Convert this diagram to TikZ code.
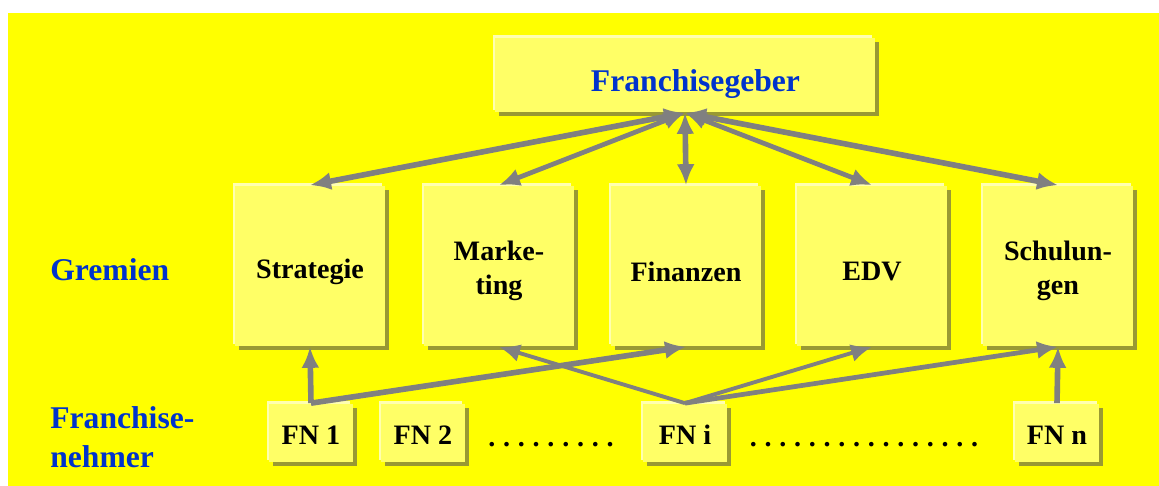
\documentclass[tikz,border=0pt]{standalone}
\usepackage{fontspec}
\setmainfont{Liberation Serif}
\usetikzlibrary{arrows.meta,shadows}
\definecolor{bgyellow}{HTML}{FFFF00}
\definecolor{boxfill}{HTML}{FFFF66}
\definecolor{boxedge}{HTML}{FFFFB0}
\definecolor{boxshade}{HTML}{999933}
\definecolor{linkgray}{HTML}{808080}
\definecolor{titleblue}{HTML}{0033CC}
\newcommand{\dotrun}[1]{.\foreach \k in {2,...,#1}{\kern4.4pt.}}
\newcommand{\lowered}[2]{\raisebox{-#1}[\height][\depth]{#2}}
\newcommand{\twolines}[2]{\begin{tabular}{@{}c@{}}#1\\#2\end{tabular}}

\begin{document}
\begin{tikzpicture}[x=0.02cm,y=-0.02cm,
  >={Latex[length=0.42cm,width=0.36cm]},
  box/.style={fill=boxfill, inner sep=0pt, align=center,
    font=\fontsize{16}{19.5}\selectfont\bfseries,
    general shadow={fill=boxedge, shadow xshift=-0.05cm, shadow yshift=0.05cm},
    drop shadow={fill=boxshade, opacity=1, shadow xshift=0.08cm, shadow yshift=-0.08cm}},
  gremium/.style={box, minimum width=3cm, minimum height=3.22cm},
  fnbox/.style={box, minimum width=1.68cm, minimum height=1.18cm},
  bluetext/.style={text=titleblue, inner sep=0pt, font=\fontsize{18}{22}\selectfont\bfseries},
  dotrow/.style={font=\fontsize{16}{19.5}\selectfont\bfseries, anchor=base},
  thick link/.style={draw=linkgray, line width=3.2pt},
  mid link/.style={draw=linkgray, line width=2.7pt},
  thin link/.style={draw=linkgray, line width=2.2pt}]

  \useasboundingbox (0,0) rectangle (1159,486);
  \fill[bgyellow] (8,13) rectangle (1159,486);

  % Franchisegeber
  \node[box, text=titleblue, font=\fontsize{18}{22}\selectfont\bfseries,
        minimum width=7.6cm, minimum height=1.5cm] (geber) at (685,75)
        {\hspace*{0.42cm}\lowered{0.18cm}{Franchisegeber}};

  % Gremien
  \node[bluetext, anchor=west] (gremien) at (50,270) {Gremien};
  \node[gremium] (strat) at (310,266) {\lowered{0.12cm}{Strategie}};
  \node[gremium] (mark) at (499,266) {\lowered{0.1cm}{\twolines{Marke-}{ting}}};
  \node[gremium] (fin) at (686,266) {\lowered{0.12cm}{Finanzen}};
  \node[gremium] (edv) at (872,266) {\lowered{0.12cm}{EDV}};
  \node[gremium] (schul) at (1058,266) {\lowered{0.1cm}{\twolines{Schulun-}{gen}}};

  % Franchisenehmer
  \node[bluetext, anchor=west, align=left] (nehmer) at (50,437) {Franchise-\\nehmer};
  \node[fnbox] (fn1) at (311,433) {\lowered{0.04cm}{FN 1}};
  \node[fnbox] (fn2) at (423,433) {\lowered{0.04cm}{FN 2}};
  \node[fnbox] (fni) at (685,433) {\lowered{0.04cm}{FN i}};
  \node[fnbox] (fnn) at (1057,433) {\lowered{0.04cm}{FN n}};
  \node[dotrow] (dotsa) at (551,446) {\dotrun{9}};
  \node[dotrow] (dotsb) at (864,446) {\dotrun{16}};

  \path [<->] (geber.south) edge [thick link] (strat.north);
  \path [<->] (geber.south) edge [mid link] (mark.north);
  \path [<->] (geber.south) edge [thick link] (fin.north);
  \path [<->] (geber.south) edge [mid link] (edv.north);
  \path [<->] (geber.south) edge [thick link] (schul.north);

  \path [->] (fn1.north) edge [thick link] (strat.south);
  \path [->] (fn1.north) edge [thick link] (fin.south);
  \path [->] (fni.north) edge [thin link] (mark.south);
  \path [->] (fni.north) edge [thin link] (edv.south);
  \path [->] (fni.north) edge [mid link] (schul.south);
  \path [->] (fnn.north) edge [thick link] (schul.south);
\end{tikzpicture}
\end{document}
